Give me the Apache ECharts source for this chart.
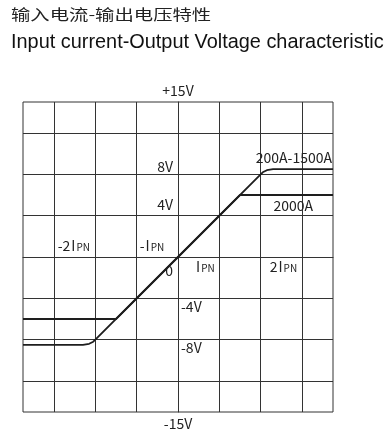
<!DOCTYPE html>
<html>
<head>
<meta charset="utf-8">
<script src="https://cdn.jsdelivr.net/npm/echarts@6/dist/echarts.min.js"></script>
<style>
html,body{margin:0;padding:0;background:#ffffff;}
#c{width:387px;height:437px;}
</style>
</head>
<body>
<div id="c"></div>
<script>
// ---- text ----
const titleZh = '输入电流-输出电压特性';
const titleEn = 'Input current-Output Voltage characteristic';
const seriesNames = ['200A-1500A', '2000A'];

// ---- data: input current (multiples of IPN) vs output voltage (V) ----
const currentA = [-3.75, -2.3, -2.15, -2.05, -2, 0, 2, 2.05, 2.15, 2.3, 3.75];
const voltageA = [-8.5, -8.5, -8.4, -8.2, -8, 0, 8, 8.2, 8.4, 8.5, 8.5];
const currentB = [-3.75, -1.5, 1.5, 3.75];
const voltageB = [-6, -6, 6, 6];

// ---- axes / ticks ----
const xRange = [-3.75, 3.75];
const yRange = [-15, 15];
const xGridTicks = [-3, -2, -1, 0, 1, 2, 3];
const yGridTicks = [-12, -8, -4, 0, 4, 8, 12];
const yTopName = '+15V';
const yBottomName = '-15V';
const yLabelsUpper = [0, 4, 8];
const yLabelsUpperText = ['0', '4V', '8V'];
const yLabelsLower = [-4, -8];
const yLabelsLowerText = ['-4V', '-8V'];
const xLabelsLeft = [-2.52, -0.63];
const xLabelsLeftText = ['-2', '-'];
const xLabelsRight = [0.65, 2.55];
const xLabelsRightText = ['', '2'];

const labelFont = "'Noto Sans CJK JP', 'Noto Sans', sans-serif";
const ink = '#222222';
const gridStyle = { color: '#333333', width: 1 };
const half = 155; // distance from grid edge to the zero lines

function ipnLabel(prefix) {
  return (prefix ? '{n|' + prefix + '}' : '') + '{i|I}{s|PN}';
}
const ipnRich = {
  n: { fontSize: 14, fontFamily: labelFont, color: ink },
  i: { fontSize: 14, fontFamily: labelFont, color: ink, padding: [0, 1, 0, 1] },
  s: { fontSize: 10, fontFamily: labelFont, color: ink, verticalAlign: 'bottom', padding: [0, 0, 1, 0] }
};

const chart = echarts.init(document.getElementById('c'));
chart.setOption({
  animation: false,
  backgroundColor: '#ffffff',
  graphic: [
    { type: 'text', x: 11, y: 14.5, scaleX: 1.29,
      style: { text: titleZh, fontSize: 15, fontFamily: "'Noto Sans CJK SC', sans-serif", fill: '#222', align: 'left', verticalAlign: 'middle' } },
    { type: 'text', x: 11, y: 43,
      style: { text: titleEn, fontSize: 19.9, fontFamily: "'Liberation Sans', Arial, sans-serif", fill: '#111', align: 'left', verticalAlign: 'middle' } }
  ],
  grid: {
    left: 23, top: 102, width: 310, height: 310,
    show: true, borderColor: '#333333', borderWidth: 1, backgroundColor: 'transparent'
  },
  xAxis: [
    {
      type: 'value', min: xRange[0], max: xRange[1], position: 'bottom', offset: -half,
      axisLine: { show: true, onZero: false, lineStyle: gridStyle },
      axisTick: { show: false, customValues: xGridTicks },
      splitLine: { show: true, lineStyle: gridStyle },
      axisLabel: {
        customValues: xLabelsRight, margin: 3, align: 'center', hideOverlap: false,
        formatter: v => ipnLabel(xLabelsRightText[xLabelsRight.indexOf(v)]),
        rich: ipnRich
      }
    },
    {
      type: 'value', min: xRange[0], max: xRange[1], position: 'top', offset: -half,
      axisLine: { show: false, onZero: false },
      axisTick: { show: false, customValues: xGridTicks },
      splitLine: { show: false },
      axisLabel: {
        customValues: xLabelsLeft, margin: 4, align: 'center', hideOverlap: false,
        formatter: v => ipnLabel(xLabelsLeftText[xLabelsLeft.indexOf(v)]),
        rich: ipnRich
      }
    }
  ],
  yAxis: [
    {
      type: 'value', min: yRange[0], max: yRange[1], position: 'left', offset: -half,
      axisLine: { show: true, onZero: false, lineStyle: gridStyle },
      axisTick: { show: false, customValues: yGridTicks },
      splitLine: { show: true, lineStyle: gridStyle },
      axisLabel: {
        customValues: yLabelsUpper, margin: 5, hideOverlap: false,
        formatter: v => {
          const t = yLabelsUpperText[yLabelsUpper.indexOf(v)];
          if (v === 0) return '{z|' + t + '}';
          if (v === 4) return '{u4|' + t + '}';
          return '{u8|' + t + '}';
        },
        rich: {
          z: { fontSize: 14, fontFamily: labelFont, color: ink, padding: [27, 0, 0, 0] },
          u4: { fontSize: 14, fontFamily: labelFont, color: ink, padding: [0, 0, 22, 0] },
          u8: { fontSize: 14, fontFamily: labelFont, color: ink, padding: [0, 0, 15, 0] }
        }
      },
      name: yTopName, nameLocation: 'end', nameGap: 4, nameMoveOverlap: false,
      nameTextStyle: { fontSize: 14, fontFamily: labelFont, color: ink, align: 'center' }
    },
    {
      type: 'value', min: yRange[0], max: yRange[1], position: 'right', offset: -half,
      axisLine: { show: false, onZero: false },
      axisTick: { show: false, customValues: yGridTicks },
      splitLine: { show: false },
      axisLabel: {
        customValues: yLabelsLower, margin: 3, hideOverlap: false,
        formatter: v => '{d|' + yLabelsLowerText[yLabelsLower.indexOf(v)] + '}',
        rich: { d: { fontSize: 14, fontFamily: labelFont, color: ink, padding: [17, 0, 0, 0] } }
      },
      name: yBottomName, nameLocation: 'start', nameGap: 5, nameMoveOverlap: false,
      nameTextStyle: { fontSize: 14, fontFamily: labelFont, color: ink, align: 'center' }
    }
  ],
  series: [
    {
      name: seriesNames[0], type: 'line', xAxisIndex: 0, yAxisIndex: 0,
      data: currentA.map((x, i) => [x, voltageA[i]]),
      showSymbol: false, symbol: 'none',
      lineStyle: { color: '#1e1e1e', width: 1.8 },
      endLabel: { show: true, formatter: '{a}', distance: 0, align: 'right', verticalAlign: 'middle', offset: [-1, -11],
        fontSize: 14, fontFamily: labelFont, color: ink },
      z: 5
    },
    {
      name: seriesNames[1], type: 'line', xAxisIndex: 0, yAxisIndex: 0,
      data: currentB.map((x, i) => [x, voltageB[i]]),
      showSymbol: false, symbol: 'none',
      lineStyle: { color: '#1e1e1e', width: 1.8 },
      endLabel: { show: true, formatter: '{a}', distance: 0, align: 'right', verticalAlign: 'middle', offset: [-20, 11],
        fontSize: 14, fontFamily: labelFont, color: ink },
      z: 5
    }
  ]
});
</script>
</body>
</html>
